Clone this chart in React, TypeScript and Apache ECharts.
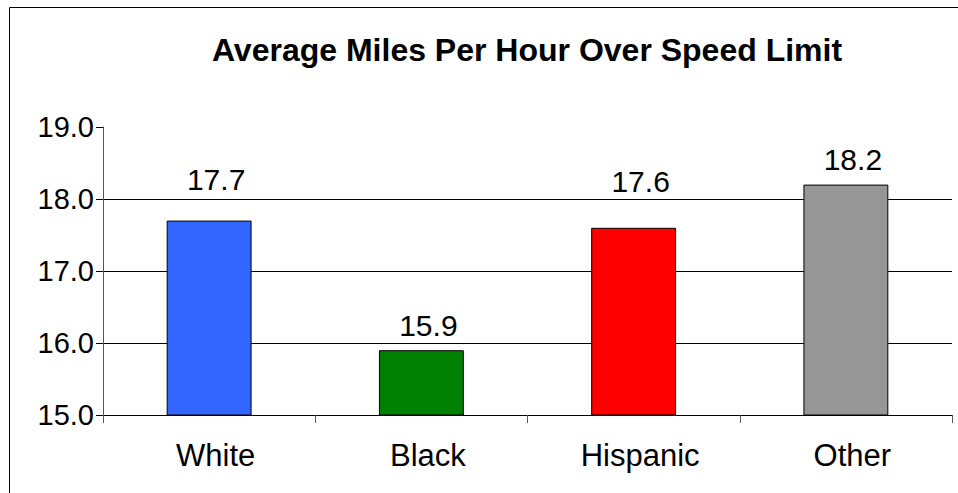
import React, { useEffect, useRef } from "react";
import * as echarts from "echarts";

const categories = ["White", "Black", "Hispanic", "Other"];
const values = [17.7, 15.9, 17.6, 18.2];
const barColors = ["#3366FF", "#008000", "#FF0000", "#969696"];
const labelDistances = [26, 10, 31, 10];
const yTicks = { min: 15, max: 19, interval: 1 };
const titleText = "Average Miles Per Hour Over Speed Limit";

export default function App() {
  const ref = useRef<HTMLDivElement>(null);
  useEffect(() => {
    if (!ref.current) return;
    const chart = echarts.init(ref.current, null, { renderer: "svg" });
    const font = "Liberation Sans, Arial, sans-serif";
    chart.setOption({
      animation: false,
      backgroundColor: "#fff",
      title: {
        text: titleText,
        left: 522,
        textAlign: "center",
        top: 29,
        textStyle: { fontFamily: font, fontSize: 32, fontWeight: "bold", color: "#000" },
      },
      graphic: [
        {
          type: "rect",
          shape: { x: 9.5, y: 7.5, width: 960, height: 500 },
          style: { fill: "none", stroke: "#000", lineWidth: 1 },
          silent: true,
        },
      ],
      grid: { left: 103, right: 6, top: 127, bottom: 78, containLabel: false },
      xAxis: {
        type: "category",
        data: categories,
        boundaryGap: true,
        axisLine: { show: true, lineStyle: { color: "#000", width: 1 } },
        axisTick: { show: true, length: 8, alignWithLabel: false, lineStyle: { color: "#555" } },
        axisLabel: { fontFamily: font, fontSize: 31, color: "#000", margin: 25, padding: [0, 0, 0, 13] },
        splitLine: { show: false },
      },
      yAxis: {
        type: "value",
        min: yTicks.min,
        max: yTicks.max,
        interval: yTicks.interval,
        axisLine: { show: true, lineStyle: { color: "#555", width: 1 } },
        axisTick: { show: true, length: 7, lineStyle: { color: "#000" } },
        axisLabel: {
          fontFamily: font,
          fontSize: 29,
          color: "#000",
          margin: 9,
          formatter: (v: number) => v.toFixed(1),
        },
        splitLine: { show: true, showMinLine: false, showMaxLine: false, lineStyle: { color: "#000", width: 1 } },
      },
      series: [
        {
          type: "bar",
          barWidth: "40%",
          data: values.map((v, i) => ({
            value: v,
            itemStyle: { color: barColors[i], borderColor: "#000", borderWidth: 1 },
            label: { distance: labelDistances[i] },
          })),
          label: {
            show: true,
            position: "top",
            offset: [7, 0],
            fontFamily: font,
            fontSize: 30,
            color: "#000",
            formatter: (p: any) => Number(p.value).toFixed(1),
          },
        },
      ],
    });
    return () => chart.dispose();
  }, []);
  return (
    <div
      ref={ref}
      style={{ position: "fixed", left: 0, top: 0, width: 958, height: 493 }}
    />
  );
}
